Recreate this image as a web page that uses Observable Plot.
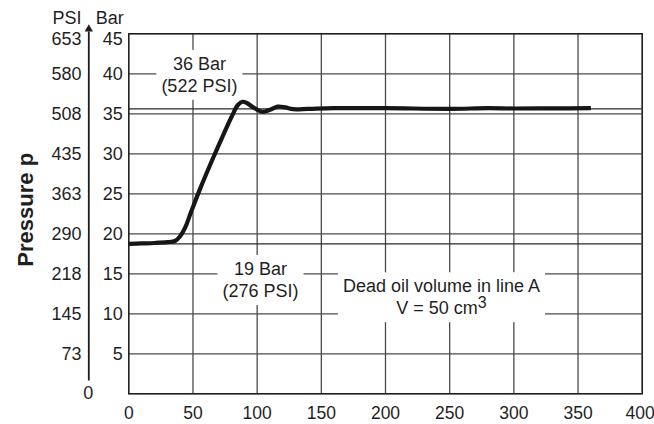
<!DOCTYPE html>
<html>
<head>
<meta charset="utf-8">
<script src="https://cdn.jsdelivr.net/npm/d3@7"></script>
<script src="https://cdn.jsdelivr.net/npm/@observablehq/plot@0.6"></script>
<style>
  html, body { margin: 0; padding: 0; background: #fff; }
  #chart svg { display: block; }
</style>
</head>
<body>
<div id="chart"></div>
<script>
// ---- data ----
const xTicks = [0, 50, 100, 150, 200, 250, 300, 350, 400];
const barTicks = [5, 10, 15, 20, 25, 30, 35, 40, 45];
const psiLabels = ["73", "145", "218", "290", "363", "435", "508", "580", "653"];
const psiZero = "0";

const time = [0, 10, 20, 30, 36, 40, 44, 48, 56, 66, 74, 80, 85, 88.5, 92, 97, 104, 110, 116, 122, 128, 140, 160, 200, 250, 280, 300, 330, 360];
const pressure = [18.75, 18.8, 18.85, 18.95, 19.1, 19.7, 20.8, 22.5, 25.8, 29.6, 32.5, 34.6, 36.1, 36.5, 36.35, 35.8, 35.25, 35.5, 35.9, 35.8, 35.58, 35.62, 35.7, 35.7, 35.62, 35.7, 35.66, 35.68, 35.7];

const refLines = [35.62, 18.75];

const noteText = ["36 Bar\n(522 PSI)", "19 Bar\n(276 PSI)", "Dead oil volume in line A\nV = 50 cm³"];
const noteX = [55, 102.6, 243.6];
const noteY = [40, 14.35, 12.2];

const yTitle = "Pressure p";
const headers = ["PSI", "Bar"];

// ---- build ----
const curve = time.map((t, i) => ({t, p: pressure[i]}));
const notes = noteText.map((text, i) => ({text, x: noteX[i], y: noteY[i]}));
const psi = barTicks.map((b, i) => ({b, label: psiLabels[i]}));
const psiBody = psi.slice(0, -1);
const psiTop = psi.slice(-1);

const FONT = "'Liberation Sans', Arial, Helvetica, sans-serif";
const INK = "#1f1f1f";

const chart = Plot.plot({
  width: 654,
  height: 424,
  marginLeft: 128.3,
  marginRight: 12.3,
  marginTop: 33.3,
  marginBottom: 30.7,
  style: {fontFamily: FONT, fontSize: "18px", color: INK, background: "#fff"},
  x: {domain: [0, 400]},
  y: {domain: [0, 45]},
  marks: [
    Plot.gridX(xTicks.slice(1, -1), {stroke: "#4a4a4a", strokeOpacity: 1, strokeWidth: 1.3}),
    Plot.gridY(barTicks.slice(0, -1), {stroke: "#4a4a4a", strokeOpacity: 1, strokeWidth: 1.3}),
    Plot.ruleY(refLines, {stroke: "#2a2a2a", strokeWidth: 1.3}),
    Plot.text(notes, {x: "x", y: "y", text: "text", fontSize: 18, lineHeight: 1.22, fill: INK, ariaDescription: "annotation"}),
    Plot.line(curve, {x: "t", y: "p", curve: "catmull-rom", stroke: "#161616", strokeWidth: 4.2, strokeLinecap: "butt"}),
    Plot.frame({stroke: "#1f1f1f", strokeWidth: 1.6}),
    Plot.axisX(xTicks.slice(0, -1), {tickSize: 0, tickPadding: 12.5, fontSize: 17.5, label: null, fill: INK}),
    Plot.axisX(xTicks.slice(-1), {tickSize: 0, tickPadding: 12.5, fontSize: 17.5, label: null, fill: INK, dx: -2}),
    Plot.axisY(barTicks.slice(0, -1), {tickSize: 0, tickPadding: 6, fontSize: 18, label: null, fill: INK}),
    Plot.axisY(barTicks.slice(-1), {tickSize: 0, tickPadding: 6, fontSize: 18, label: null, fill: INK, dy: 5}),
    Plot.text(psiBody, {x: 0, y: "b", text: "label", dx: -47.3, textAnchor: "end", fontSize: 18, fill: INK}),
    Plot.text(psiTop, {x: 0, y: "b", text: "label", dx: -47.3, dy: 5, textAnchor: "end", fontSize: 18, fill: INK}),
    Plot.text([psiZero], {x: 0, y: 0, text: d => d, dx: -40.6, dy: -1, fontSize: 18, fill: INK}),
    Plot.link([{y1: 1.66, y2: 45.3}], {x1: 0, x2: 0, y1: "y1", y2: "y2", dx: -40, stroke: INK, strokeWidth: 1.8}),
    Plot.dot([45.6], {x: 0, y: d => d, dx: -40, symbol: "triangle", r: 3.1, fill: INK, stroke: "none"}),
    Plot.text([headers[0]], {frameAnchor: "top-left", dx: -47.3, dy: -16, textAnchor: "end", lineAnchor: "middle", fontSize: 18, fill: INK}),
    Plot.text([headers[1]], {frameAnchor: "top-left", dx: -5, dy: -16, textAnchor: "end", lineAnchor: "middle", fontSize: 18, fill: INK}),
    Plot.text([yTitle], {frameAnchor: "left", dx: -103.3, dy: -4, rotate: -90, textAnchor: "middle", lineAnchor: "middle", fontSize: 22, fontWeight: "bold", fill: INK})
  ]
});

document.getElementById("chart").append(chart);

// superscript 3 and white label boxes behind annotation text
const ns = "http://www.w3.org/2000/svg";
const noteGroup = chart.querySelector('g[aria-description="annotation"]');
if (noteGroup) {
  noteGroup.querySelectorAll("tspan").forEach(ts => {
    if (ts.textContent.includes("³")) {
      ts.textContent = ts.textContent.replace("³", "");
      const sup = document.createElementNS(ns, "tspan");
      sup.setAttribute("dy", "-6");
      sup.setAttribute("font-size", "16");
      sup.textContent = "3";
      ts.appendChild(sup);
    }
  });
  noteGroup.querySelectorAll("text").forEach(t => {
    const b = t.getBBox();
    const r = document.createElementNS(ns, "rect");
    const padX = 5, padY = 4;
    r.setAttribute("x", b.x - padX);
    r.setAttribute("y", b.y - padY);
    r.setAttribute("width", b.width + 2 * padX);
    r.setAttribute("height", b.height + 2 * padY);
    r.setAttribute("fill", "#fff");
    r.setAttribute("stroke", "none");
    const tr = t.getAttribute("transform");
    if (tr) r.setAttribute("transform", tr);
    t.parentNode.insertBefore(r, t);
  });
}
</script>
</body>
</html>
